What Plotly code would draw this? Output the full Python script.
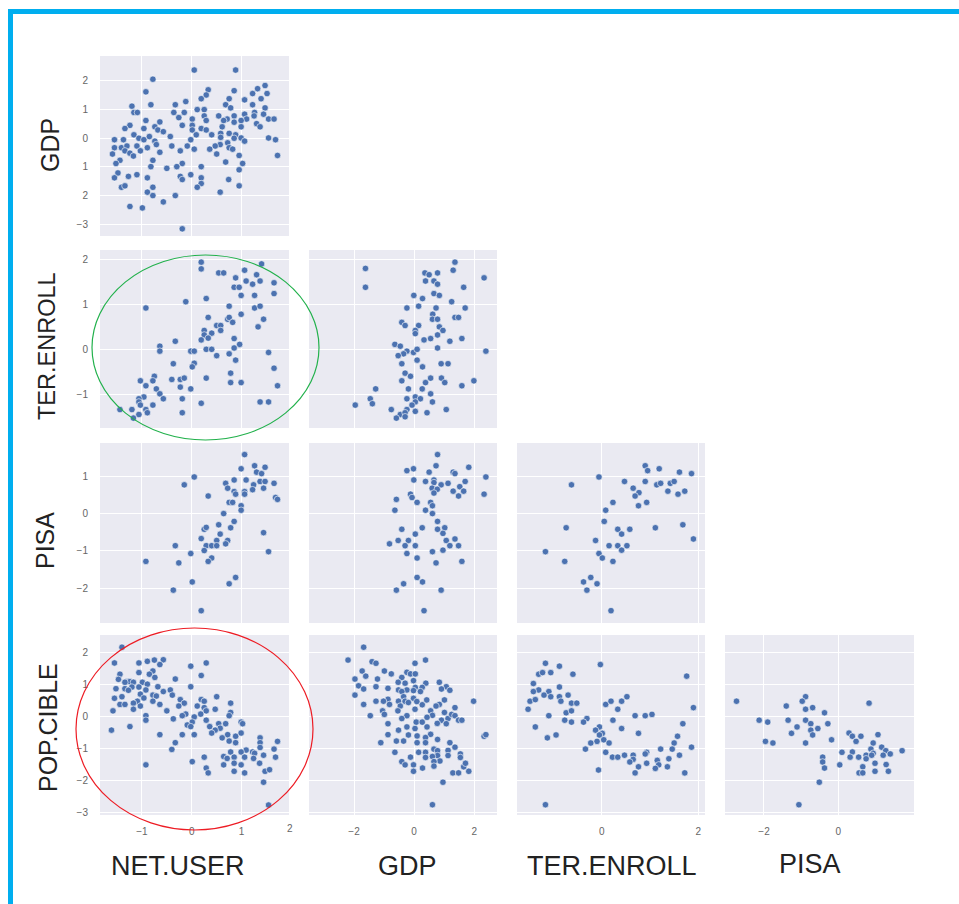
import plotly.graph_objects as go

# ---- tick labels / variable names ----
row_names = ["GDP", "TER.ENROLL", "PISA", "POP.CIBLE"]
col_names = ["NET.USER", "GDP", "TER.ENROLL", "PISA"]

# ---- values: (x, y) per panel ----
net_gdp_x = [0.05,0.88,-0.78,-0.92,1.47,1.32,1.22,1.51,0.85,0.33,0.29,0.19,-0.12,-0.33,-0.82,-1.20,0.75,1.06,1.39,1.22,0.68,0.78,1.47,0.11,0.25,-1.16,-1.09,-0.36,-0.15,-0.26,0.54,0.25,1.26,1.44,1.06,0.85,1.25,0.71,1.10,0.99,1.54,1.65,-0.92,-0.64,0.01,0.29,0.64,0.85,1.30,1.37,-0.19,0.01,0.01,-0.74,-1.24,-1.34,-0.96,-0.68,-0.57,0.19,0.29,0.61,0.99,-1.16,-0.43,0.09,0.40,0.58,0.58,0.75,0.88,0.85,0.99,1.06,1.54,1.68,-1.55,-1.37,-1.06,-0.96,-0.85,-0.02,-0.74,0.72,0.57,0.47,-1.55,-1.41,-1.30,-1.10,-0.89,-0.71,-0.40,-0.09,0.05,0.36,0.75,0.82,-1.34,-1.24,-1.03,-0.64,-0.23,0.50,-1.59,-1.17,0.95,1.72,-0.78,-1.44,0.68,-1.52,-0.19,1.02,-0.82,-0.30,0.19,-0.50,0.95,-1.48,-1.27,-1.10,-1.55,-0.89,-0.23,-0.02,-0.19,0.19,0.74,0.19,-1.41,-1.34,-0.78,0.11,0.95,-0.89,0.57,-0.78,-0.33,-0.57,-1.24,-0.99,-0.19]
net_gdp_y = [2.38,2.38,2.06,1.62,1.84,1.73,1.56,1.56,1.66,1.69,1.51,1.38,1.28,1.17,1.17,1.12,1.38,1.34,1.38,1.17,1.17,1.06,1.06,1.00,1.00,0.90,0.90,0.90,0.90,0.72,0.78,0.78,0.90,0.84,0.84,0.78,0.78,0.67,0.67,0.62,0.67,0.67,0.62,0.57,0.67,0.62,0.62,0.56,0.51,0.40,0.45,0.45,0.29,0.40,0.45,0.34,0.34,0.29,0.23,0.34,0.29,0.40,0.40,0.12,0.06,0.12,0.12,0.17,0.03,0.17,0.12,0.00,0.01,-0.10,0.01,-0.05,-0.05,-0.05,0.00,-0.05,0.06,-0.05,-0.10,-0.16,-0.22,-0.27,-0.33,-0.33,-0.27,-0.27,-0.33,-0.22,-0.27,-0.27,-0.38,-0.38,-0.33,-0.38,-0.44,-0.52,-0.44,-0.49,-0.44,-0.55,-0.55,-0.62,-0.60,-0.60,-0.77,-0.77,-0.83,-0.88,-0.88,-0.88,-0.99,-0.99,-0.99,-1.05,-1.10,-1.21,-1.33,-1.27,-1.38,-1.38,-1.33,-1.27,-1.44,-1.38,-1.44,-1.58,-1.71,-1.66,-1.71,-1.71,-1.66,-1.88,-1.88,-2.00,-2.00,-2.22,-2.38,-2.43,-3.16]

net_ter_x = [0.19,0.19,0.54,0.64,1.06,1.40,1.30,0.88,1.09,1.37,1.22,1.65,0.85,0.95,0.99,1.26,1.65,-0.12,0.29,-0.92,0.75,1.26,1.37,0.99,0.33,0.72,0.75,1.44,0.82,0.50,0.58,1.33,0.58,0.25,0.25,0.40,0.33,0.85,0.19,-0.33,-0.64,-0.64,0.96,0.85,-0.02,0.05,0.29,0.40,0.50,0.75,1.54,0.88,-0.37,0.05,0.01,1.65,0.78,-0.75,-1.03,-0.78,-0.40,-0.23,-0.15,0.29,0.78,0.99,-0.92,-0.23,-0.02,1.72,-0.71,-0.64,-0.57,-0.96,-1.06,-1.06,-0.19,-0.78,0.19,1.37,1.54,-1.03,-1.44,-1.20,-0.92,-0.89,-1.06,-0.19,-1.17]
net_ter_y = [1.94,1.79,1.70,1.70,1.76,1.90,1.66,1.59,1.52,1.52,1.45,1.48,1.38,1.38,1.20,1.20,1.24,1.06,1.13,0.92,0.96,0.92,0.96,0.78,0.71,0.67,0.71,0.67,0.60,0.53,0.53,0.50,0.42,0.42,0.32,0.36,0.25,0.24,0.21,0.18,0.07,-0.04,0.11,0.03,-0.04,-0.04,0.00,0.00,-0.14,-0.10,-0.07,-0.24,-0.32,-0.31,-0.39,-0.42,-0.53,-0.60,-0.70,-0.70,-0.67,-0.67,-0.64,-0.64,-0.74,-0.74,-0.81,-0.84,-0.88,-0.81,-0.88,-0.99,-1.10,-1.06,-1.10,-1.17,-1.10,-1.24,-1.20,-1.17,-1.17,-1.24,-1.34,-1.34,-1.34,-1.41,-1.45,-1.41,-1.53]

gdp_ter_x = [1.36,1.30,-1.62,0.36,0.50,0.78,2.33,0.38,0.66,0.78,-1.62,1.65,-0.01,0.28,0.66,0.84,1.25,-0.24,0.15,0.73,1.70,0.62,0.61,0.78,1.36,1.48,-0.41,-0.30,0.15,0.84,0.96,0.04,0.04,0.78,0.55,0.33,1.19,1.59,-0.64,-0.46,0.78,-0.24,-0.35,-0.53,-0.02,0.10,2.39,0.10,-0.41,0.90,1.13,0.28,-0.30,-0.12,-0.41,0.55,0.91,0.38,1.02,1.99,1.59,-1.28,-0.19,0.27,0.55,0.04,-0.24,0.21,-1.46,-1.39,-1.96,0.61,0.04,-0.07,-0.76,-0.24,1.07,0.04,0.43,-0.46,-0.30,-0.59,-0.30]
gdp_ter_y = [1.94,1.76,1.80,1.70,1.66,1.70,1.59,1.52,1.52,1.45,1.38,1.38,1.20,1.13,1.24,1.20,1.06,0.92,0.96,0.92,0.92,0.78,0.67,0.67,0.71,0.71,0.60,0.53,0.53,0.50,0.42,0.42,0.35,0.32,0.24,0.21,0.18,0.24,0.11,0.07,0.03,-0.04,-0.10,-0.14,-0.07,0.00,-0.04,-0.24,-0.32,-0.32,-0.32,-0.39,-0.53,-0.60,-0.70,-0.64,-0.64,-0.74,-0.74,-0.70,-0.81,-0.88,-0.88,-0.88,-0.99,-1.06,-1.10,-1.10,-1.10,-1.21,-1.24,-1.17,-1.17,-1.24,-1.34,-1.34,-1.34,-1.38,-1.41,-1.45,-1.41,-1.53,-1.50]

net_pisa_x = [1.06,1.26,1.47,0.99,1.30,1.40,0.05,0.85,1.09,0.68,1.37,1.47,1.65,-0.15,0.72,1.24,1.22,1.44,0.85,0.88,1.06,1.06,0.33,1.68,1.72,0.75,0.82,0.99,0.99,0.64,0.85,0.54,0.25,0.29,0.78,1.44,0.57,0.19,0.50,0.72,0.68,-0.33,0.29,0.40,0.50,0.25,1.54,-0.02,0.40,0.33,-0.26,-0.92,0.88,0.01,0.75,-0.37,0.19]
net_pisa_y = [1.58,1.28,1.24,1.20,1.11,1.07,0.98,0.90,0.90,0.81,0.86,0.86,0.81,0.77,0.68,0.77,0.64,0.68,0.59,0.52,0.59,0.52,0.47,0.43,0.38,0.30,0.30,0.21,0.09,0.00,-0.21,-0.30,-0.42,-0.37,-0.38,-0.51,-0.55,-0.67,-0.72,-0.72,-0.81,-0.86,-0.86,-0.86,-0.86,-0.99,-1.02,-1.07,-1.19,-1.28,-1.32,-1.28,-1.71,-1.83,-1.88,-2.05,-2.60]

gdp_pisa_x = [0.78,0.73,1.82,-0.24,-0.02,0.50,1.30,1.36,2.39,-0.01,0.38,0.66,0.66,0.90,1.13,1.70,1.52,0.60,0.77,1.30,1.65,0.66,2.33,-0.12,-0.07,1.48,-0.59,0.10,0.55,0.61,-0.64,0.38,0.61,0.78,-0.41,0.27,0.78,1.02,0.96,0.04,-0.82,-0.53,-0.19,-0.30,0.04,1.07,1.36,1.19,1.48,0.96,0.61,-0.24,0.10,0.73,1.59,0.10,0.28,-0.35,-0.59,0.90,0.33]
gdp_pisa_y = [1.58,1.28,1.24,1.15,1.20,1.11,1.11,1.07,0.98,0.90,0.86,0.90,0.83,0.77,0.81,0.86,0.72,0.68,0.65,0.60,0.60,0.55,0.52,0.52,0.43,0.47,0.38,0.30,0.30,0.21,0.09,0.09,0.00,-0.21,-0.42,-0.38,-0.42,-0.38,-0.53,-0.55,-0.81,-0.72,-0.72,-0.86,-0.86,-0.72,-0.68,-0.86,-0.86,-0.98,-1.02,-1.07,-1.19,-1.32,-1.28,-1.71,-1.83,-1.88,-2.05,-2.05,-2.60]

ter_pisa_x = [0.90,0.95,1.19,1.61,1.86,-0.06,-0.63,0.47,0.90,1.14,1.22,1.42,1.50,0.65,0.77,0.69,1.37,1.58,1.72,0.93,0.23,0.76,0.08,0.05,-0.74,0.33,0.58,1.11,1.68,0.41,-0.13,1.90,0.15,0.33,0.52,0.41,-0.06,-1.17,0.01,-0.77,0.23,-0.23,-0.38,-0.10,-0.31,0.19]
ter_pisa_y = [1.28,1.15,1.20,1.11,1.07,0.98,0.77,0.86,0.86,0.77,0.81,0.81,0.86,0.68,0.56,0.47,0.60,0.52,0.60,0.30,0.30,0.21,0.09,-0.21,-0.38,-0.42,-0.42,-0.38,-0.30,-0.55,-0.72,-0.68,-0.86,-0.86,-0.86,-0.98,-1.07,-1.02,-1.19,-1.28,-1.28,-1.71,-1.83,-1.88,-2.05,-2.60]

net_pop_x = [-1.40,-1.55,-1.06,-0.89,-0.75,-0.57,-0.64,-0.02,0.29,-1.44,-1.06,-0.78,-0.85,-0.74,-1.47,-0.33,0.19,-1.30,-1.24,-1.34,-1.17,-0.99,-0.89,-0.68,-0.02,-1.52,-1.34,-1.20,-1.06,-0.92,-1.27,-0.43,-0.57,-1.03,-0.78,-0.71,-0.39,-0.96,-1.40,-1.55,-0.78,-1.09,-1.17,-1.44,-1.34,-1.03,-0.64,-0.23,-0.15,-0.26,0.19,0.50,0.25,0.11,0.25,0.78,-1.17,-1.58,-0.50,0.29,0.47,0.78,0.75,-0.92,-0.92,-0.12,-0.19,0.18,-0.37,0.05,0.01,-0.09,-0.02,0.29,0.99,1.02,0.36,0.54,0.68,0.57,0.47,0.40,0.99,-1.61,-1.24,-0.64,-0.19,0.05,0.72,0.88,0.61,1.37,0.75,0.88,1.37,1.37,-0.33,-0.40,1.72,1.65,0.78,1.09,1.22,0.99,0.64,0.71,0.85,1.06,1.26,1.44,1.24,1.68,0.25,0.01,0.64,0.85,0.99,1.36,0.29,0.33,0.85,1.06,1.47,1.56,1.44,1.54,-0.92]
net_pop_y = [2.15,1.66,1.66,1.71,1.75,1.76,1.61,1.56,1.66,1.31,1.36,1.41,1.31,1.21,1.15,1.16,1.27,1.08,1.08,1.06,1.06,1.06,1.00,0.92,0.92,0.86,0.86,0.91,0.91,0.82,0.81,0.82,0.77,0.69,0.66,0.63,0.66,0.57,0.61,0.56,0.47,0.47,0.41,0.37,0.37,0.32,0.37,0.52,0.41,0.32,0.52,0.61,0.47,0.32,0.27,0.41,0.22,0.17,0.17,0.17,0.22,0.12,0.02,0.02,-0.12,0.07,0.02,0.07,-0.08,-0.02,-0.18,-0.27,-0.32,-0.12,-0.18,-0.23,-0.32,-0.23,-0.23,-0.37,-0.43,-0.52,-0.52,-0.43,-0.32,-0.57,-0.57,-0.57,-0.57,-0.62,-0.67,-0.67,-0.77,-0.82,-0.82,-0.97,-0.82,-1.03,-0.78,-1.02,-1.11,-1.05,-1.11,-1.11,-1.25,-1.31,-1.27,-1.27,-1.15,-1.21,-1.31,-1.27,-1.27,-1.41,-1.51,-1.46,-1.51,-1.46,-1.61,-1.76,-1.71,-1.76,-1.71,-1.66,-2.05,-2.76,-1.51]

gdp_pop_x = [-1.68,-2.20,-1.40,-1.27,0.38,0.03,-0.99,-0.76,-1.73,-1.61,-0.24,-0.12,0.04,-0.41,-1.97,-1.22,-0.53,-0.02,-0.30,0.39,0.84,-1.85,-1.27,-1.68,-0.87,0.04,0.27,1.07,0.91,1.19,-0.52,-0.24,-0.41,-0.02,0.21,-1.97,-0.02,-0.35,-0.87,-1.27,-1.02,-0.82,-1.68,-0.52,-0.30,-0.19,-0.46,0.27,0.42,0.09,1.01,1.98,0.84,0.73,1.36,1.01,0.55,0.61,-0.54,0.03,-1.05,-0.99,-1.46,-0.24,-0.41,-0.87,0.07,0.27,0.43,0.91,1.13,1.25,1.36,1.48,1.59,0.77,1.07,0.43,0.03,-0.24,-0.52,-0.87,-0.19,-0.35,-0.59,-1.11,0.10,0.55,0.38,0.10,0.38,0.78,1.19,1.36,1.13,-0.64,0.15,0.38,0.66,0.78,0.78,0.61,1.13,1.54,1.54,-0.12,0.38,0.86,0.66,-0.41,-0.30,-0.02,0.28,0.66,1.65,1.71,-0.02,1.29,1.48,1.82,0.96,0.61,2.33,2.39]
gdp_pop_y = [2.15,1.75,1.70,1.65,1.75,1.65,1.41,1.32,1.41,1.25,1.37,1.32,1.32,1.21,1.16,1.16,1.06,1.11,1.03,1.03,1.06,0.95,0.92,0.85,0.87,0.90,0.90,0.92,0.85,0.81,0.82,0.82,0.77,0.80,0.77,0.66,0.56,0.61,0.53,0.47,0.47,0.37,0.37,0.47,0.47,0.43,0.32,0.36,0.51,0.46,0.51,0.47,0.37,0.32,0.27,0.12,0.17,0.03,0.17,0.22,0.17,0.06,0.02,0.02,-0.07,-0.23,-0.18,-0.18,-0.03,-0.12,-0.07,0.06,0.02,-0.12,-0.12,-0.22,-0.23,-0.33,-0.38,-0.33,-0.43,-0.57,-0.58,-0.77,-0.77,-0.82,-0.61,-0.56,-0.66,-0.82,-0.82,-0.72,-0.82,-0.96,-1.06,-1.12,-1.12,-1.12,-1.02,-1.07,-1.22,-1.25,-1.22,-1.17,-1.28,-1.27,-1.28,-1.39,-1.41,-1.41,-1.51,-1.51,-1.61,-1.55,-1.57,-1.46,-1.71,-1.76,-1.76,-1.71,-2.05,-2.75,-0.62,-0.57]

ter_pop_x = [-1.17,-0.88,-0.03,-1.31,-1.23,-1.06,-0.60,1.76,-1.42,-0.88,-1.31,-1.42,-1.10,-1.20,-1.06,-0.88,-0.70,-0.85,-1.49,-1.38,-0.63,-0.52,0.08,0.19,0.41,0.52,0.33,-1.53,1.90,-0.74,-0.63,-1.10,0.69,0.90,1.04,-0.31,-0.38,-0.77,-0.63,0.23,1.68,-1.38,-0.05,0.41,-0.13,0.01,-0.05,0.76,-1.13,-0.95,1.57,0.04,-0.10,-0.23,0.15,1.50,-0.34,1.22,1.46,1.86,0.08,0.93,0.90,0.22,0.33,0.47,0.65,1.61,1.39,0.65,0.58,1.15,0.93,1.18,0.76,1.11,1.36,-0.07,0.69,1.72,-1.17]
ter_pop_y = [1.65,1.56,1.61,1.31,1.36,1.36,1.31,1.25,1.02,0.91,0.82,0.77,0.77,0.66,0.61,0.61,0.66,0.47,0.47,0.52,0.41,0.41,0.37,0.47,0.47,0.61,0.22,0.22,0.27,0.11,0.17,0.02,0.02,0.02,0.06,-0.07,-0.18,-0.12,-0.18,-0.12,-0.23,-0.33,-0.33,-0.38,-0.43,-0.53,-0.58,-0.53,-0.67,-0.58,-0.62,-0.73,-0.78,-0.83,-0.83,-0.83,-1.02,-1.02,-1.02,-0.96,-1.12,-1.12,-1.17,-1.27,-1.27,-1.21,-1.21,-1.21,-1.32,-1.34,-1.42,-1.37,-1.46,-1.51,-1.57,-1.62,-1.57,-1.67,-1.76,-1.76,-2.75]

pisa_pop_x = [-2.74,-0.88,-0.97,-1.40,-0.88,-0.69,-0.37,0.83,-2.13,-1.90,-1.35,-0.88,-0.74,-0.28,-1.11,-0.55,-0.74,-1.26,-0.69,0.29,0.38,0.61,1.07,-0.18,0.48,-1.96,-1.76,-0.88,0.94,1.17,0.88,1.28,1.72,0.10,0.38,0.94,0.32,0.55,0.75,0.90,1.21,1.40,0.75,-0.42,-0.42,0.04,-0.37,0.99,1.29,0.66,0.99,1.35,0.56,0.66,-0.51,-1.06]
pisa_pop_y = [0.47,0.61,0.47,0.32,0.22,0.27,0.11,0.41,-0.12,-0.18,-0.12,-0.12,-0.23,-0.23,-0.33,-0.38,-0.43,-0.53,-0.58,-0.52,-0.62,-0.62,-0.57,-0.73,-0.78,-0.78,-0.83,-0.83,-0.83,-0.96,-1.02,-1.07,-1.07,-1.12,-1.11,-1.15,-1.27,-1.27,-1.21,-1.21,-1.21,-1.17,-1.32,-1.27,-1.42,-1.51,-1.61,-1.46,-1.50,-1.57,-1.71,-1.71,-1.76,-1.76,-2.05,-2.75]

panels = [
    (0, 0, net_gdp_x, net_gdp_y),
    (1, 0, net_ter_x, net_ter_y),
    (1, 1, gdp_ter_x, gdp_ter_y),
    (2, 0, net_pisa_x, net_pisa_y),
    (2, 1, gdp_pisa_x, gdp_pisa_y),
    (2, 2, ter_pisa_x, ter_pisa_y),
    (3, 0, net_pop_x, net_pop_y),
    (3, 1, gdp_pop_x, gdp_pop_y),
    (3, 2, ter_pop_x, ter_pop_y),
    (3, 3, pisa_pop_x, pisa_pop_y),
]

# ---- layout (pixels of the 959x904 page) ----
W, H = 959, 904
col_px = [(100, 289), (309, 497), (517, 705), (725, 914)]
row_px = [(56, 236), (250, 428), (443, 623), (635, 815)]
col_range = [(-1.84, 1.95), (-3.50, 2.76), (-1.76, 2.14), (-3.05, 2.04)]
row_range = [(-3.41, 2.87), (-1.75, 2.21), (-2.93, 1.89), (-3.07, 2.53)]
col_ticks = [([-1, 0, 1], ["−1", "0", "1"]), ([-2, 0, 2], ["−2", "0", "2"]),
             ([0, 2], ["0", "2"]), ([-2, 0], ["−2", "0"])]
row_ticks = [([2, 1, 0, -1, -2, -3], ["2", "1", "0", "1", "2", "−3"]),
             ([2, 1, 0, -1], ["2", "1", "0", "−1"]),
             ([1, 0, -1, -2], ["1", "0", "−1", "−2"]),
             ([2, 1, 0, -1, -2, -3], ["2", "1", "0", "−1", "−2", "−3"])]

BG = "#EAEAF2"
TICK = dict(size=10, color="#666666", family="Liberation Sans")
CLEAR = "rgba(0,0,0,0)"
fig = go.Figure()
layout = {}
for i, (r, c, xs, ys) in enumerate(panels, start=1):
    suffix = "" if i == 1 else str(i)
    fig.add_trace(go.Scatter(
        x=xs, y=ys, mode="markers", xaxis="x" + suffix, yaxis="y" + suffix,
        marker=dict(color="#4C72B0", size=6.5, line=dict(color="white", width=0.6)),
        showlegend=False, hoverinfo="skip"))
    x0, x1 = col_px[c]
    y0, y1 = row_px[r]
    bottom, left = r == 3, c == 0
    layout["xaxis" + suffix] = dict(
        domain=[x0 / W, x1 / W], range=list(col_range[c]), anchor="y" + suffix,
        tickvals=col_ticks[c][0], ticktext=col_ticks[c][1], showticklabels=bottom,
        showgrid=True, gridcolor="white", gridwidth=1.2, zeroline=False, showline=False,
        ticks="outside", tickcolor=CLEAR, ticklen=7, tickfont=TICK)
    layout["yaxis" + suffix] = dict(
        domain=[1 - y1 / H, 1 - y0 / H], range=list(row_range[r]), anchor="x" + suffix,
        tickvals=row_ticks[r][0], ticktext=row_ticks[r][1], showticklabels=left,
        showgrid=True, gridcolor="white", gridwidth=1.2, zeroline=False, showline=False,
        ticks="outside", tickcolor=CLEAR, ticklen=9, tickfont=TICK)

def px(x):
    return x / W

def py(y):
    return 1 - y / H

def rect(x0, y0, x1, y1, color):
    return dict(type="rect", xref="paper", yref="paper", x0=px(x0), x1=px(x1),
                y0=py(y0), y1=py(y1), fillcolor=color, line=dict(width=0), layer="below")

shapes = []
for r, c, _, _ in panels:
    shapes.append(rect(col_px[c][0], row_px[r][0], col_px[c][1], row_px[r][1], BG))
shapes.append(rect(8, 9, 959, 14, "#00AEEF"))
shapes.append(rect(8, 9, 13, 904, "#00AEEF"))
for (x0, y0, x1, y1, col) in [(92, 255, 319, 440, "#22B14C"), (76, 628, 313, 830, "#ED1C24")]:
    shapes.append(dict(type="circle", xref="paper", yref="paper", x0=px(x0), x1=px(x1),
                       y0=py(y0), y1=py(y1), line=dict(color=col, width=1.2),
                       fillcolor="rgba(0,0,0,0)", layer="above"))

label_font = lambda s: dict(size=s, color="#222222", family="Liberation Sans")
annotations = []
for name, xc, yc, sz in zip(row_names, [50, 47, 45, 48], [145, 346, 541, 728], [25, 23.5, 25, 25]):
    annotations.append(dict(text=name, xref="paper", yref="paper", x=px(xc), y=py(yc),
                            xanchor="center", yanchor="middle", showarrow=False,
                            textangle=-90, font=label_font(sz)))
for name, xc, yc in zip(col_names, [178, 407, 612, 810], [866, 866, 866, 864]):
    annotations.append(dict(text=name, xref="paper", yref="paper", x=px(xc), y=py(yc),
                            xanchor="center", yanchor="middle", showarrow=False,
                            font=label_font(27)))
# the "2" under the first column sits just beyond its panel
annotations.append(dict(text="2", xref="paper", yref="paper", x=px(290), y=py(828),
                        xanchor="center", yanchor="middle", showarrow=False, font=TICK))

fig.update_layout(width=W, height=H, margin=dict(l=0, r=0, t=0, b=0, autoexpand=False), autosize=False,
                  paper_bgcolor="white", plot_bgcolor=BG, shapes=shapes,
                  annotations=annotations, **layout)
fig.write_html("out.html", post_script="document.body.style.margin='0';document.body.style.overflow='hidden';",
               config=dict(displayModeBar=False))
